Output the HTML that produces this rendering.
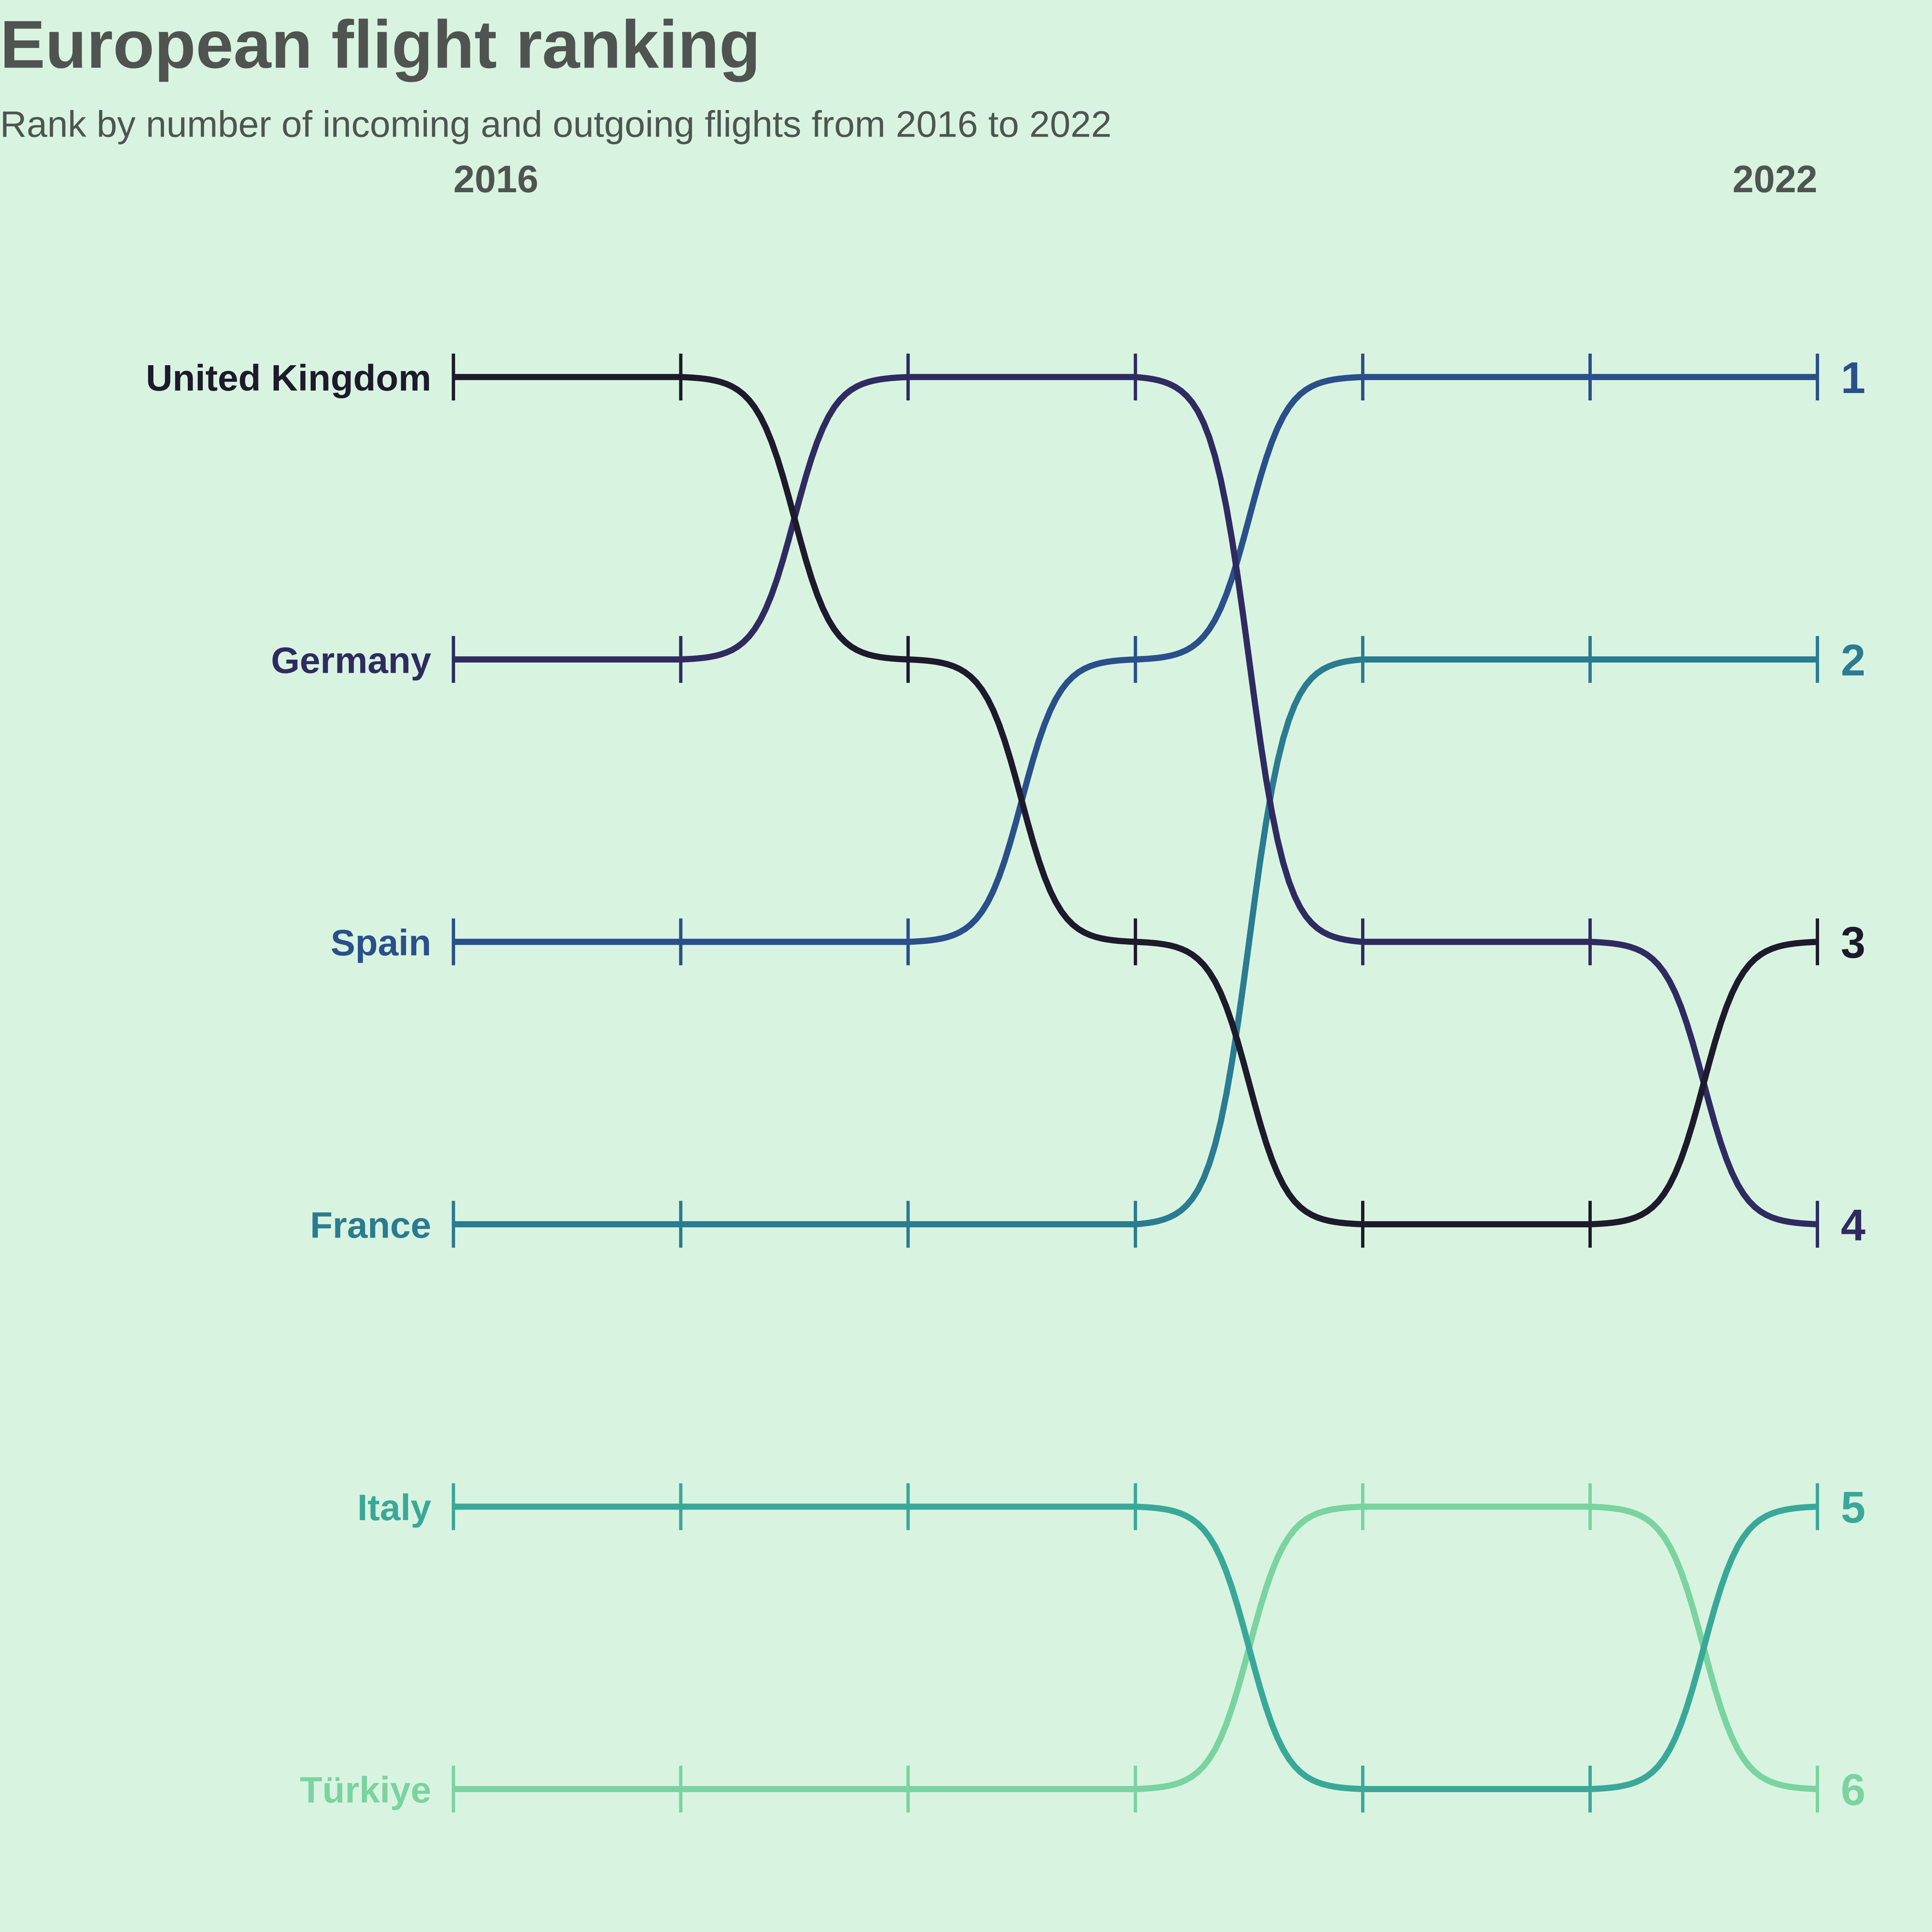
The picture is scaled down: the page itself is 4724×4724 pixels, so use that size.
<!DOCTYPE html>
<html><head><meta charset="utf-8"><style>
html,body{margin:0;padding:0;background:#d8f4e0;}
svg{display:block;}
text{font-family:"Liberation Sans",Arial,sans-serif;}
</style></head><body>
<svg id="chart" width="4724" height="4724" viewBox="0 0 1568 1568" xmlns="http://www.w3.org/2000/svg">
<rect width="1568" height="1568" fill="#d8f4e0"/>
<text x="0" y="55" font-size="55" font-weight="bold" fill="#4f5451">European flight ranking</text>
<text x="0" y="111" font-size="30" fill="#4f5451">Rank by number of incoming and outgoing flights from 2016 to 2022</text>
<g id="plot"></g>
</svg>
<script>
const years = [2016, 2017, 2018, 2019, 2020, 2021, 2022];
const countries = ["United Kingdom", "Germany", "Spain", "France", "Italy", "Türkiye"];
const colors = ["#1d1a2b", "#2f2b60", "#2a4f8a", "#2b7b91", "#3aa898", "#7ad3a0"];
const rankUK = [1, 1, 2, 3, 4, 4, 3];
const rankDE = [2, 2, 1, 1, 3, 3, 4];
const rankES = [3, 3, 3, 2, 1, 1, 1];
const rankFR = [4, 4, 4, 4, 2, 2, 2];
const rankIT = [5, 5, 5, 5, 6, 6, 5];
const rankTR = [6, 6, 6, 6, 5, 5, 6];
const ranks = [rankUK, rankDE, rankES, rankFR, rankIT, rankTR];

const NS = "http://www.w3.org/2000/svg";
const plot = document.getElementById("plot");
const x0 = 368, x1 = 1475, y0 = 306, y1 = 1452;
const xs = i => x0 + (x1 - x0) * i / (years.length - 1);
const ys = r => y0 + (y1 - y0) * (r - 1) / 5;
function mk(tag, attrs) { const e = document.createElementNS(NS, tag); for (const k in attrs) e.setAttribute(k, attrs[k]); plot.appendChild(e); return e; }

const yl1 = mk("text", {x: xs(0), y: 156, "font-size": 31, "font-weight": "bold", fill: "#4f5451"});
yl1.textContent = years[0];


const yl2 = mk("text", {x: xs(years.length - 1), y: 156, "font-size": 31, "font-weight": "bold", fill: "#4f5451", "text-anchor": "end"});
yl2.textContent = years[years.length - 1];



const sig = t => { const k = 12; const a = 1 / (1 + Math.exp(k * 0.5)), b = 1 / (1 + Math.exp(-k * 0.5)); return (1 / (1 + Math.exp(-k * (t - 0.5))) - a) / (b - a); };

for (let c = countries.length - 1; c >= 0; c--) {
  const r = ranks[c];
  let d = "M" + xs(0) + "," + ys(r[0]);
  for (let i = 0; i < years.length - 1; i++) {
    const xa = xs(i), xb = xs(i + 1), ya = ys(r[i]), yb = ys(r[i + 1]);
    for (let s = 1; s <= 40; s++) { const t = s / 40; d += " L" + (xa + (xb - xa) * t).toFixed(2) + "," + (ya + (yb - ya) * sig(t)).toFixed(2); }
  }
  const p = mk("path", {d: d, fill: "none", stroke: colors[c], "stroke-width": 5, "stroke-linejoin": "round"});
  
  
  for (let i = 0; i < years.length; i++) {
    const tk = mk("line", {x1: xs(i), x2: xs(i), y1: ys(r[i]) - 19, y2: ys(r[i]) + 19, stroke: colors[c], "stroke-width": 2.7});
    
    
  }
  const lab = mk("text", {x: 350, y: ys(r[0]) + 11, "font-size": 30, "font-weight": "bold", fill: colors[c], "text-anchor": "end"});
  lab.textContent = countries[c];
  
  
  const last = r[years.length - 1];
  const rl = mk("text", {x: 1494, y: ys(last) + 13, "font-size": 36, "font-weight": "bold", fill: colors[c]});
  rl.textContent = last;
  
  
}
</script>
</body></html>
